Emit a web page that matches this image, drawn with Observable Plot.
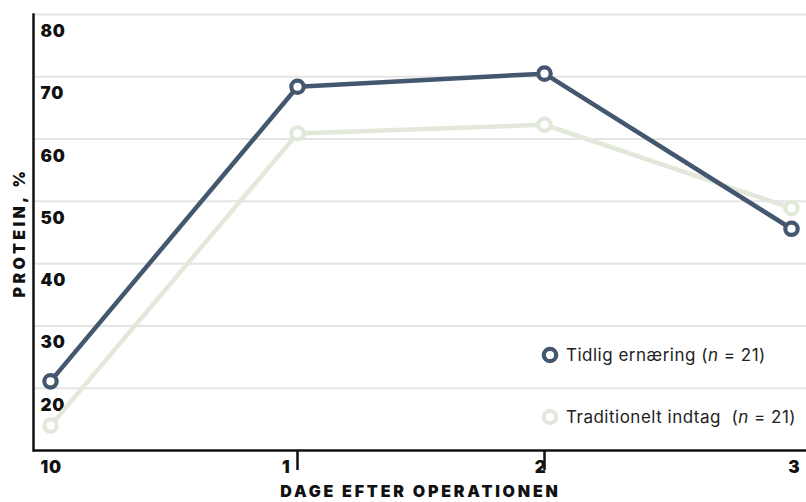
<!DOCTYPE html>
<html>
<head>
<meta charset="utf-8">
<script src="https://cdn.jsdelivr.net/npm/d3@7"></script>
<script src="https://cdn.jsdelivr.net/npm/@observablehq/plot@0.6"></script>
<style>
  html, body { margin: 0; padding: 0; background: #fff; }
  #wrap { position: relative; width: 806px; height: 502px; overflow: hidden; }
  #legend { position: absolute; left: 541px; top: 343px; font-family: Inter, "Open Sans", sans-serif; font-size: 17px; letter-spacing: 0.5px; color: #222; }
  .item { display: flex; align-items: center; height: 24px; white-space: pre; }
  .item svg { margin-right: 7px; }
  .item + .item { margin-top: 38px; }
</style>
</head>
<body>
<div id="wrap"></div>
<script>
const days = [0, 1, 2, 3];
const xTickLabels = [1, 2, 3];
const yTicks = [10, 20, 30, 40, 50, 60, 70, 80];
const tidlig = [21.1, 68.4, 70.5, 45.6];
const traditionelt = [14.0, 60.9, 62.3, 48.9];
const seriesNames = ["Tidlig ernæring", "Traditionelt indtag "];
const nValues = [21, 21];
const colors = ["#43576e", "#e2e8da"];
const yTitle = "PROTEIN, %";
const xTitle = "DAGE EFTER OPERATIONEN";

const rows = [];
days.forEach((d, i) => {
  rows.push({day: d, value: traditionelt[i], s: seriesNames[1]});
});
days.forEach((d, i) => {
  rows.push({day: d, value: tidlig[i], s: seriesNames[0]});
});

const font = "Inter, 'Open Sans', sans-serif";

const chart = Plot.plot({
  width: 806,
  height: 502,
  marginLeft: 33,
  marginRight: 15,
  marginTop: 14,
  marginBottom: 52,
  insetLeft: 17,
  style: {fontFamily: font, background: "#fff", color: "#111"},
  x: {domain: [0, 3], axis: null},
  y: {domain: [10, 80], axis: null},
  color: {domain: seriesNames, range: colors},
  marks: [
    Plot.ruleY(yTicks.filter(v => v > 10), {stroke: "#e4e4e4", strokeWidth: 2, insetRight: -15}),
    Plot.axisX(xTickLabels.slice(0, 2), {tickSize: 20, tickFormat: () => "", stroke: "#111", strokeWidth: 2.5, label: null}),
    Plot.ruleY([10], {stroke: "#111", strokeWidth: 2.5, insetRight: -15}),
    Plot.frame({anchor: "left", stroke: "#111", strokeWidth: 2.5}),
    Plot.text(yTicks, {text: d => String(d), y: d => d, frameAnchor: "left", textAnchor: "start", dx: 7, dy: 17, fontSize: 17, fontWeight: 900, fill: "#111"}),
    ...xTickLabels.map(t => Plot.text([t], {x: d => d, y: 10, text: d => String(d), textAnchor: "end", dx: t === 3 ? 9 : (t === 2 ? 2 : -7), dy: 17, fontSize: 17, fontWeight: 900, fill: "#111"})),
    Plot.line(rows, {x: "day", y: "value", z: "s", stroke: "s", strokeWidth: 4.5}),
    Plot.dot(rows, {x: "day", y: "value", stroke: "s", fill: "#fff", r: 6.2, strokeWidth: 4.2}),
    Plot.text([yTitle], {frameAnchor: "left", textAnchor: "middle", rotate: -90, dx: -14, fontSize: 16, fontWeight: 900, fill: "#111"}),
    Plot.text([xTitle], {frameAnchor: "bottom", textAnchor: "middle", dx: 8, dy: 46, fontSize: 16, fontWeight: 900, fill: "#111"})
  ]
});

const wrap = document.getElementById("wrap");
wrap.appendChild(chart);

d3.select(chart).selectAll("text")
  .filter(function() { return this.textContent === yTitle || this.textContent === xTitle; })
  .style("letter-spacing", function() { return this.textContent === yTitle ? "3.4px" : "2.8px"; });
d3.select(chart).selectAll("text")
  .filter(function() { return /^\d+$/.test(this.textContent); })
  .style("letter-spacing", "0.8px");

const legend = document.createElement("div");
legend.id = "legend";
seriesNames.forEach((name, i) => {
  const item = document.createElement("div");
  item.className = "item";
  item.innerHTML = `<svg width="18" height="18" viewBox="0 0 18 18"><circle cx="9" cy="9" r="6.2" fill="#fff" stroke="${colors[i]}" stroke-width="4.2"/></svg><span>${name} (<i>n</i> = ${nValues[i]})</span>`;
  legend.appendChild(item);
});
wrap.appendChild(legend);
</script>
</body>
</html>
